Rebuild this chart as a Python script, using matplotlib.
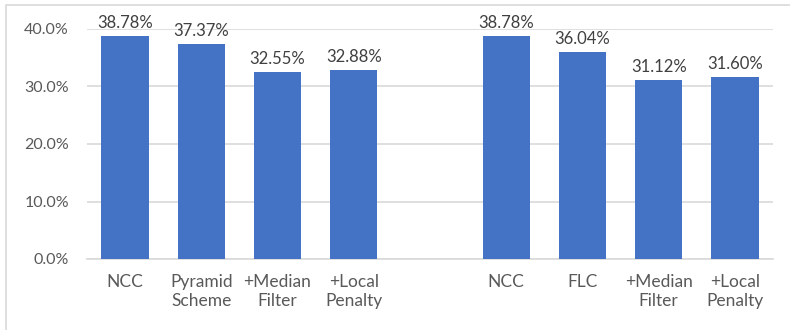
import numpy as np
import matplotlib.pyplot as plt
from matplotlib.patches import Rectangle
from matplotlib.ticker import PercentFormatter

# two ablation groups, one blank slot between them
labels = ['NCC', 'Pyramid\nScheme', '+Median\nFilter', '+Local\nPenalty', '',
          'NCC', 'FLC', '+Median\nFilter', '+Local\nPenalty']
left_vals = [38.78, 37.37, 32.55, 32.88]
right_vals = [38.78, 36.04, 31.12, 31.60]

values = left_vals + [np.nan] + right_vals
x = np.arange(len(labels))

plt.rcParams['font.family'] = ['Lato', 'DejaVu Sans']

fig = plt.figure(figsize=(7.9, 3.3), dpi=100)
ax = fig.add_axes([87 / 790, 1 - 259 / 330, 686 / 790, 230 / 330])

# thin frame around the whole chart
fig.patches.append(Rectangle((6 / 790, -0.1), 1.2, 1 - 5 / 330 + 0.1,
                             transform=fig.transFigure, fill=False,
                             edgecolor='#D9D9D9', linewidth=1.2))

mask = ~np.isnan(values)
bars = ax.bar(x[mask], np.array(values)[mask], width=0.62, color='#4472C4', zorder=3)

for xi, v in zip(x[mask], np.array(values)[mask]):
    ax.annotate(f'{v:.2f}%', (xi, v), xytext=(0, 3.5), textcoords='offset points',
                ha='center', va='bottom', fontsize=12, color='#404040')

ax.set_xlim(-0.5, len(labels) - 0.5)
ax.set_ylim(0, 40)
ax.set_yticks([0, 10, 20, 30, 40])
ax.yaxis.set_major_formatter(PercentFormatter(decimals=1))
ax.set_xticks(x)
ax.set_xticklabels(labels, linespacing=1.2)

ax.grid(axis='y', color='#D9D9D9', linewidth=1.2, zorder=0)
for s in ['top', 'right', 'left']:
    ax.spines[s].set_visible(False)
ax.spines['bottom'].set_color('#D9D9D9')
ax.spines['bottom'].set_linewidth(1.2)
ax.tick_params(axis='both', length=0, labelcolor='#595959')
ax.tick_params(axis='x', pad=11, labelsize=12.5)
ax.tick_params(axis='y', pad=13, labelsize=11.5)

plt.savefig('out.png', dpi=100)
